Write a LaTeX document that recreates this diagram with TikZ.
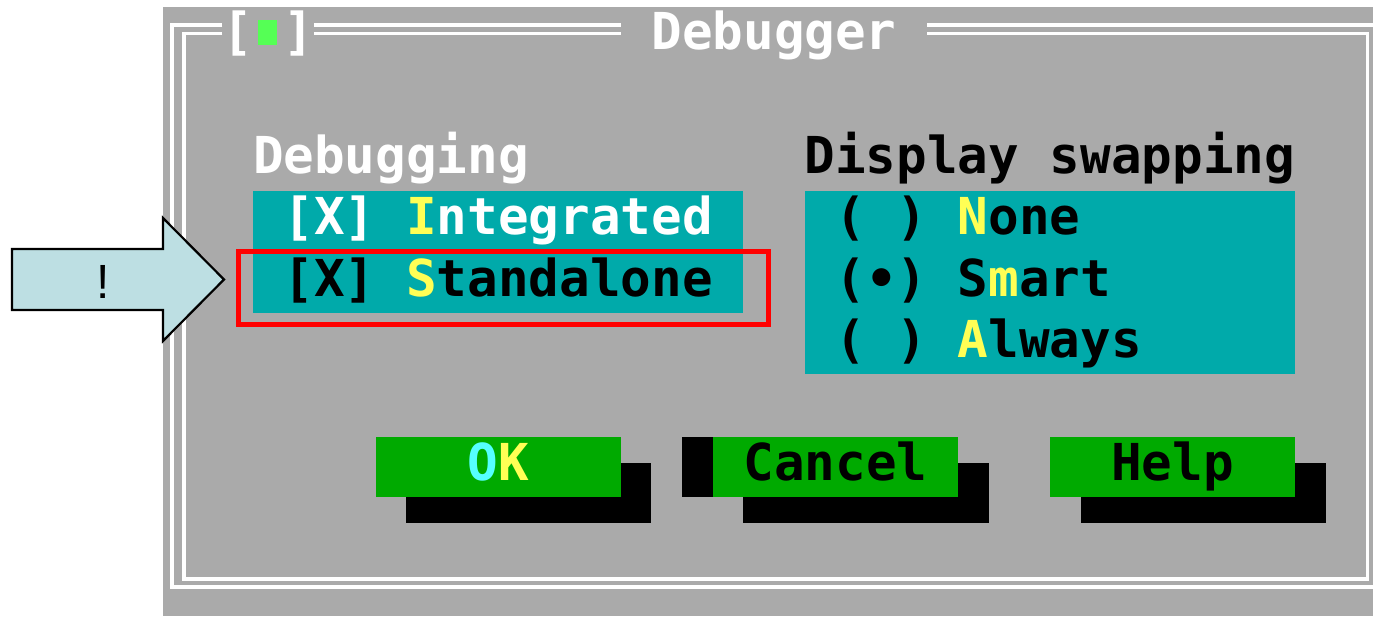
\documentclass[tikz,border=0pt]{standalone}
\usepackage{fontspec}
\newfontfamily\vga{DejaVu Sans Mono}
\newfontfamily\arialfont{Liberation Sans}
\definecolor{vgagray}{RGB}{170,170,170}
\definecolor{vgateal}{RGB}{0,170,170}
\definecolor{vgagreen}{RGB}{0,170,0}
\definecolor{vgayellow}{RGB}{255,255,85}
\definecolor{vgacyan}{RGB}{85,255,255}
\definecolor{vgalime}{RGB}{85,255,85}
\definecolor{arrowblue}{RGB}{189,223,227}
\begin{document}
\begin{tikzpicture}[x=1pt,y=-1pt,
  vgatext/.style={anchor=base west,inner sep=0pt,outer sep=0pt,
    font=\vga\bfseries\fontsize{50.9pt}{61.5pt}\selectfont},
  btntext/.style={vgatext,anchor=base},
  frameline/.style={draw=white,line width=3.8pt,line join=miter},
  tealbox/.style={fill=vgateal},
  greenbtn/.style={fill=vgagreen},
  shadow/.style={fill=black},
  callout/.style={draw=black,line width=2.2pt,fill=arrowblue,line join=miter},
  highlight/.style={draw=red,line width=5pt}]
\useasboundingbox (0,0) rectangle (1373,616);
\fill[white] (0,0) rectangle (1373,616);
% dialog background
\fill[vgagray] (163,7) rectangle (1373,616);
% double frame
\draw[frameline] (222.35,25) -- (172,25) -- (172,587) -- (1380,587);
\draw[frameline] (314.3,25) -- (620.8,25);
\draw[frameline] (927.3,25) -- (1380,25);
\draw[frameline] (222.35,33.5) -- (184,33.5) -- (184,579) -- (1367.5,579) -- (1367.5,33.5) -- (927.3,33.5);
\draw[frameline] (314.3,33.5) -- (620.8,33.5);
% title row
\node[vgatext,text=white] (lbr) at (222.35,49) {[};
\fill[vgalime] (258,20) rectangle (277,45);
\node[vgatext,text=white] (rbr) at (283.65,49) {]};
\node[vgatext,text=white] (title) at (651.45,49) {Debugger};
% Debugging group
\node[vgatext,text=white] (dbg) at (253,173) {Debugging};
\fill[tealbox] (253,191) rectangle (743.4,313);
\node[vgatext,text=white] (integ) at (283.65,234.5) {[X] \textcolor{vgayellow}{I}ntegrated};
\node[vgatext,text=black] (stand) at (283.65,296) {[X] \textcolor{vgayellow}{S}tandalone};
% Display swapping group
\node[vgatext,text=black] (disp) at (804.7,173) {Display swapping};
\fill[tealbox] (804.7,191) rectangle (1295.1,374);
\node[vgatext,text=black] (none) at (835.35,234.5) {( ) \textcolor{vgayellow}{N}one};
\node[vgatext,text=black] (smart) at (835.35,296) {(•) S\textcolor{vgayellow}{m}art};
\node[vgatext,text=black] (always) at (835.35,357.5) {( ) \textcolor{vgayellow}{A}lways};
% highlight box
\draw[highlight] (238.5,251.5) rectangle (768.5,324.5);
% buttons: shadows
\fill[shadow] (620.8,463) rectangle (651.45,497);
\fill[shadow] (406.25,497) rectangle (651.45,523);
\fill[shadow] (958,463) rectangle (988.7,497);
\fill[shadow] (743.4,497) rectangle (988.7,523);
\fill[shadow] (1295.1,463) rectangle (1325.75,497);
\fill[shadow] (1080.55,497) rectangle (1325.75,523);
\fill[shadow] (682.1,437) rectangle (712.75,497);
% buttons
\fill[greenbtn] (375.6,437) rectangle (620.8,497);
\fill[greenbtn] (712.75,437) rectangle (958,497);
\fill[greenbtn] (1049.9,437) rectangle (1295.1,497);
\node[btntext] (ok) at (498.2,480.5) {\textcolor{vgacyan}{O}\textcolor{vgayellow}{K}};
\node[btntext,text=black] (cancel) at (835.4,480.5) {Cancel};
\node[btntext,text=black] (help) at (1172.5,480.5) {Help};
% callout arrow
\filldraw[callout] (12,249) -- (163,249) -- (163,218) -- (224,279.5) -- (163,341) -- (163,310) -- (12,310) -- cycle;
\node[anchor=base,inner sep=0pt,font=\arialfont\fontsize{48pt}{50pt}\selectfont] (bang) at (103,298) {!};
\end{tikzpicture}
\end{document}
